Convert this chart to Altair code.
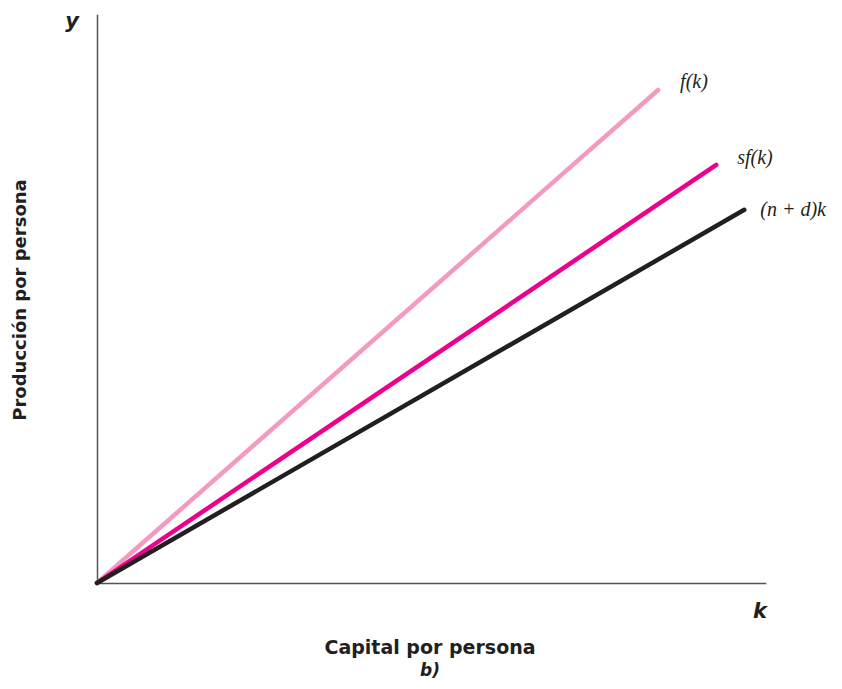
import altair as alt
import pandas as pd

series = ["f(k)", "sf(k)", "(n + d)k"]
k_start = [0, 0, 0]
y_start = [0, 0, 0]
k_end = [84.0, 92.7, 96.9]
y_end = [86.8, 73.6, 65.7]
colors = ["#F49AC1", "#EC008C", "#231F20"]
label_dx = [22, 21, 16]
label_dy = [-8, -7, 0]

rows = []
for i, s in enumerate(series):
    rows.append({"series": s, "order": i, "k": k_start[i], "y": y_start[i]})
    rows.append({"series": s, "order": i, "k": k_end[i], "y": y_end[i]})
df = pd.DataFrame(rows)

lab = pd.DataFrame({"series": series, "k": k_end, "y": y_end, "dx": label_dx, "dy": label_dy})

xs = alt.Scale(domain=[0, 100], nice=False, zero=True)
ys = alt.Scale(domain=[0, 100], nice=False, zero=True)
cs = alt.Scale(domain=series, range=colors)

axis_x = alt.Axis(title=None, labels=False, ticks=False, grid=False, domainColor="#555555", domainWidth=1.5)
axis_y = alt.Axis(title=None, labels=False, ticks=False, grid=False, domainColor="#555555", domainWidth=1.5)

lines = alt.Chart(df).mark_line(strokeWidth=4.5, strokeCap="round").encode(
    x=alt.X("k:Q", scale=xs, axis=axis_x),
    y=alt.Y("y:Q", scale=ys, axis=axis_y),
    color=alt.Color("series:N", scale=cs, legend=None),
    order=alt.Order("order:Q"),
)

label_layers = []
for i, s in enumerate(series):
    label_layers.append(
        alt.Chart(lab[lab.series == s]).mark_text(
            font="Liberation Serif", fontStyle="italic", fontSize=20, align="left",
            baseline="middle", dx=label_dx[i], dy=label_dy[i], color="#231F20",
        ).encode(x=alt.X("k:Q", scale=xs), y=alt.Y("y:Q", scale=ys), text="series:N")
    )

def ann(text, x, y, size, style="normal", angle=0, align="center"):
    kw = dict(font="DejaVu Sans", fontWeight="bold", fontSize=size, align=align,
              baseline="middle", color="#231F20", fontStyle=style)
    if angle:
        kw["angle"] = angle
    return alt.Chart(pd.DataFrame({"t": [text]})).mark_text(**kw).encode(
        x=alt.value(x), y=alt.value(y), text="t:N")

annots = [
    ann("y", -25, 7, 21, "italic"),
    ann("k", 663, 597, 21, "italic"),
    ann("Capital por persona", 333, 633, 19),
    ann("b)", 333, 656, 17, "italic"),
    ann("Producción por persona", -76, 285, 18, angle=270),
]

chart = alt.layer(lines, *label_layers, *annots).properties(
    width=668, height=568,
    autosize=alt.AutoSizeParams(type="none"),
    padding={"left": 89, "top": 7, "right": 69, "bottom": 100},
).configure_view(stroke=None).configure_axis(domainCap="square")

chart.save("out.html", embed_options={"renderer": "svg", "actions": False})
